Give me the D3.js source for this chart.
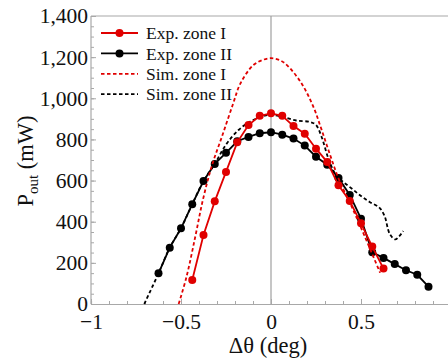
<!DOCTYPE html>
<html>
<head>
<meta charset="utf-8">
<script src="https://cdn.jsdelivr.net/npm/d3@7"></script>
<style>
  body { margin: 0; background: #fff; }
  text { font-family: "Liberation Serif", "DejaVu Serif", serif; fill: #111; }
</style>
</head>
<body>
<svg id="chart" width="448" height="360"></svg>
<script>
// --- data ---
var expZoneIX = [-0.4375, -0.375, -0.3125, -0.25, -0.1875, -0.125, -0.0625, 0,
  0.0625, 0.125, 0.1875, 0.25, 0.3125, 0.375, 0.4375, 0.5, 0.5625, 0.625];
var expZoneIY = [117, 335, 499, 642, 786, 870, 915, 927,
  915, 865, 828, 755, 690, 577, 501, 392, 279, 172];

var expZoneIIX = [-0.625, -0.5625, -0.5, -0.4375, -0.375, -0.3125, -0.25, -0.1875, -0.125, -0.0625, 0,
  0.0625, 0.125, 0.1875, 0.25, 0.3125, 0.375, 0.4375, 0.5, 0.5625, 0.625, 0.6875, 0.75, 0.8125, 0.875];
var expZoneIIY = [149, 274, 368, 485, 598, 681, 735, 791, 812, 830, 835,
  823, 804, 770, 716, 677, 613, 530, 415, 251, 224, 194, 164, 142, 84];

var simZoneIX = [-0.513, -0.47, -0.42, -0.38, -0.33, -0.27, -0.21, -0.17, -0.1, -0.05, 0,
  0.05, 0.09, 0.17, 0.235, 0.28, 0.33, 0.38, 0.45, 0.52, 0.606];
var simZoneIY = [0, 130, 330, 500, 668, 820, 975, 1072, 1160, 1185, 1195,
  1185, 1160, 1072, 959, 850, 720, 600, 470, 330, 152];

var simZoneIIX = [-0.704, -0.625, -0.5625, -0.5, -0.4375, -0.375, -0.3125, -0.25, -0.18, -0.117, -0.05, 0,
  0.07, 0.14, 0.217, 0.25, 0.28, 0.32, 0.365, 0.4, 0.45, 0.5, 0.55, 0.6, 0.63, 0.66, 0.69, 0.713, 0.735];
var simZoneIIY = [0, 149, 274, 368, 485, 598, 681, 775, 846, 886, 911, 920,
  908, 892, 885, 870, 815, 705, 620, 594, 560, 525, 495, 470, 430, 340, 314, 330, 355];

var xTicks = [-1, -0.5, 0, 0.5];
var yTicks = [0, 200, 400, 600, 800, 1000, 1200, 1400];

var legendLabels = ['Exp. zone I', 'Exp. zone II', 'Sim. zone I', 'Sim. zone II'];

// --- setup ---
var svg = d3.select('#chart');
var plotLeft = 91, plotTop = 16, plotRight = 451, plotBottom = 304;
var red = '#e00000', black = '#000';
var frameColor = '#a8a8a8';

var x = d3.scaleLinear().domain([-1, 1]).range([plotLeft, plotRight]);
var y = d3.scaleLinear().domain([0, 1400]).range([plotBottom, plotTop]);

function zip(xs, ys) {
  return xs.map(function (v, i) { return [v, ys[i]]; });
}

// frame
svg.append('line')
  .attr('x1', plotLeft).attr('x2', plotRight).attr('y1', plotTop).attr('y2', plotTop)
  .attr('stroke', frameColor).attr('stroke-width', 1.2);
svg.append('line')
  .attr('x1', plotLeft).attr('x2', plotLeft).attr('y1', plotTop).attr('y2', plotBottom)
  .attr('stroke', frameColor).attr('stroke-width', 1.2);

// zero line
svg.append('line')
  .attr('x1', x(0)).attr('x2', x(0)).attr('y1', plotTop).attr('y2', plotBottom)
  .attr('stroke', '#a0a0a0').attr('stroke-width', 1.2);

// x axis: minor then major ticks (inside)
var xMinor = d3.range(-10, 10).map(function (i) { return i / 10; });
svg.append('g')
  .attr('transform', 'translate(0,' + plotBottom + ')')
  .call(d3.axisBottom(x).tickValues(xMinor).tickSize(-3).tickFormat(''))
  .call(function (g) {
    g.select('.domain').attr('stroke', frameColor).attr('stroke-width', 1.2);
    g.selectAll('.tick line').attr('stroke', frameColor);
  });
svg.append('g')
  .attr('transform', 'translate(0,' + plotBottom + ')')
  .call(d3.axisBottom(x).tickValues(xTicks).tickSize(-5).tickPadding(10).tickFormat(d3.format('')))
  .call(function (g) {
    g.select('.domain').remove();
    g.selectAll('.tick line').attr('stroke', frameColor);
    g.selectAll('.tick text').attr('font-size', 21.5).attr('dy', '0.71em')
      .style('font-family', '"Liberation Serif", serif').attr('fill', '#111');
  });

// y axis
var yMinor = d3.range(0, 1401, 50);
svg.append('g')
  .attr('transform', 'translate(' + plotLeft + ',0)')
  .call(d3.axisLeft(y).tickValues(yMinor).tickSize(-3).tickFormat(''))
  .call(function (g) {
    g.select('.domain').remove();
    g.selectAll('.tick line').attr('stroke', frameColor);
  });
svg.append('g')
  .attr('transform', 'translate(' + plotLeft + ',0)')
  .call(d3.axisLeft(y).tickValues(yTicks).tickSize(-5).tickPadding(3).tickFormat(d3.format(',')))
  .call(function (g) {
    g.select('.domain').remove();
    g.selectAll('.tick line').attr('stroke', frameColor);
    g.selectAll('.tick text').attr('font-size', 21.5)
      .style('font-family', '"Liberation Serif", serif').attr('fill', '#111');
  });

// axis titles
svg.append('text')
  .attr('x', 268).attr('y', 353)
  .attr('text-anchor', 'middle')
  .attr('font-size', 22.5)
  .text('Δθ (deg)');

var yTitle = svg.append('text')
  .attr('transform', 'translate(33,161) rotate(-90)')
  .attr('text-anchor', 'middle')
  .attr('font-size', 22.5);
yTitle.append('tspan').text('P');
yTitle.append('tspan').attr('font-size', 15).attr('dy', 5).text('out');
yTitle.append('tspan').attr('dy', -5).text(' (mW)');

// curves
var plot = svg.append('g');
var smooth = d3.line().x(function (d) { return x(d[0]); }).y(function (d) { return y(d[1]); })
  .curve(d3.curveCatmullRom.alpha(0.5));
var straight = d3.line().x(function (d) { return x(d[0]); }).y(function (d) { return y(d[1]); });

plot.append('path').datum(zip(simZoneIIX, simZoneIIY))
  .attr('d', smooth).attr('fill', 'none')
  .attr('stroke', black).attr('stroke-width', 1.8).attr('stroke-dasharray', '3.5,2.5');

plot.append('path').datum(zip(expZoneIIX, expZoneIIY))
  .attr('d', straight).attr('fill', 'none')
  .attr('stroke', black).attr('stroke-width', 1.8);
plot.selectAll('circle.e2').data(zip(expZoneIIX, expZoneIIY)).enter()
  .append('circle').attr('class', 'e2')
  .attr('cx', function (d) { return x(d[0]); })
  .attr('cy', function (d) { return y(d[1]); })
  .attr('r', 4).attr('fill', black);

plot.append('path').datum(zip(expZoneIX, expZoneIY))
  .attr('d', straight).attr('fill', 'none')
  .attr('stroke', red).attr('stroke-width', 1.8);
plot.selectAll('circle.e1').data(zip(expZoneIX, expZoneIY)).enter()
  .append('circle').attr('class', 'e1')
  .attr('cx', function (d) { return x(d[0]); })
  .attr('cy', function (d) { return y(d[1]); })
  .attr('r', 4).attr('fill', red);

plot.append('path').datum(zip(simZoneIX, simZoneIY))
  .attr('d', smooth).attr('fill', 'none')
  .attr('stroke', red).attr('stroke-width', 1.8).attr('stroke-dasharray', '3.5,2.5');

// legend
var legendStyles = [
  { color: red, dash: null, dot: true },
  { color: black, dash: null, dot: true },
  { color: red, dash: '3.5,2.5', dot: false },
  { color: black, dash: '3.5,2.5', dot: false }
];
var legend = svg.append('g').attr('transform', 'translate(101,33)');
legendLabels.forEach(function (label, i) {
  var row = legend.append('g').attr('transform', 'translate(0,' + i * 20.4 + ')');
  var st = legendStyles[i];
  row.append('line')
    .attr('x1', 0).attr('x2', 37).attr('y1', 0).attr('y2', 0)
    .attr('stroke', st.color).attr('stroke-width', 1.8)
    .attr('stroke-dasharray', st.dash);
  if (st.dot) {
    row.append('circle').attr('cx', 18.5).attr('cy', 0).attr('r', 4).attr('fill', st.color);
  }
  row.append('text')
    .attr('x', 45).attr('y', 0).attr('dy', '0.35em')
    .attr('font-size', 17.5)
    .text(label);
});
</script>
</body>
</html>
